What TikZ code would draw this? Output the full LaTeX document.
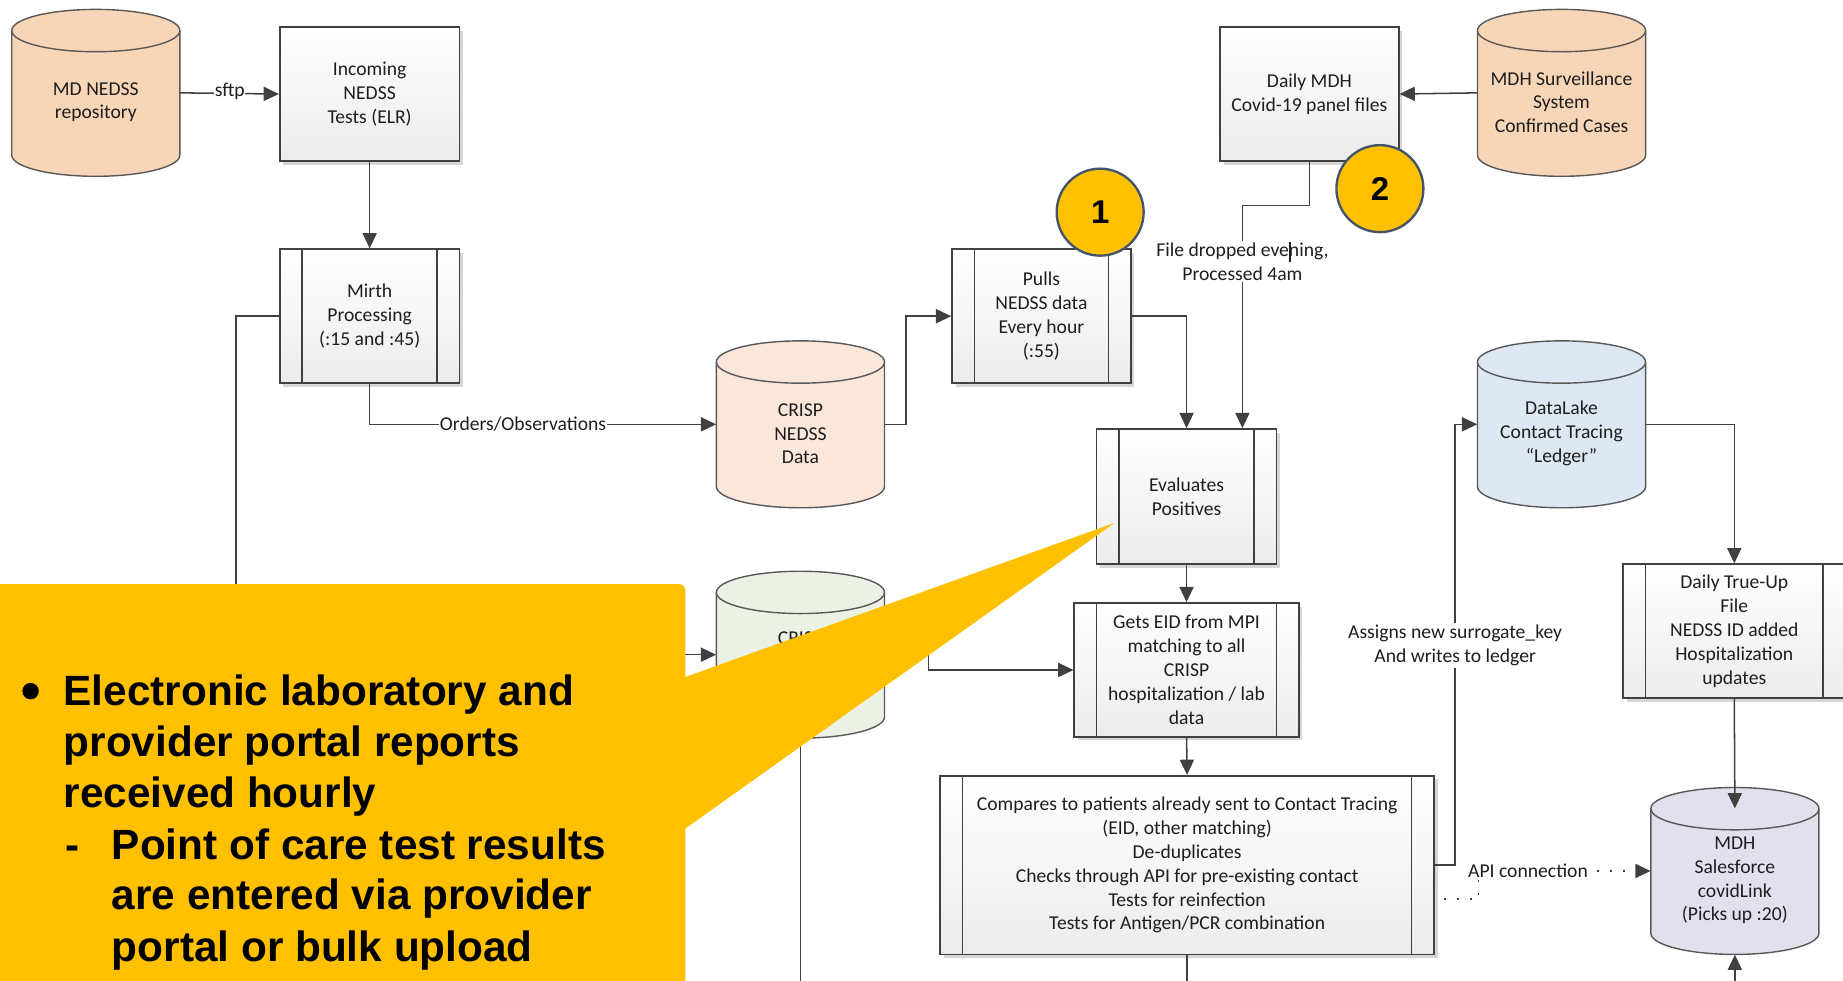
\documentclass[tikz,border=0pt]{standalone}
\usepackage{fontspec}
\usetikzlibrary{arrows.meta,shadows}

\newfontfamily\diagfont{Carlito}
\newfontfamily\notefont{Liberation Sans}

\definecolor{txt}{HTML}{1E1E1E}
\definecolor{linec}{HTML}{404040}
\definecolor{boxc}{HTML}{404040}
\definecolor{boxbot}{HTML}{ECECEC}
\definecolor{shadowc}{HTML}{D6D6D6}
\definecolor{cylc}{HTML}{595959}
\definecolor{peach}{HTML}{F7D5B7}
\definecolor{peachlt}{HTML}{FBE6DA}
\definecolor{greenlt}{HTML}{ECF1E6}
\definecolor{bluelt}{HTML}{DDE8F4}
\definecolor{lilac}{HTML}{E3E0ED}
\definecolor{gold}{HTML}{FFC000}
\definecolor{slate}{HTML}{44546A}

\newcommand\diagsize{\diagfont\fontsize{16.7pt}{20.3pt}\selectfont}
\newcommand\notesize{\notefont\bfseries\fontsize{36pt}{43.6pt}\selectfont}

% database cylinder: name, centre, fill colour, label
\newcommand\dbcyl[4]{%
  \begin{scope}[shift={#2}]
    \filldraw[cyl, fill=#3] (-71.5,-53) -- (-71.5,53)
      arc[start angle=180, end angle=360, x radius=71.5pt, y radius=18pt]
      -- (71.5,-53)
      arc[start angle=0, end angle=180, x radius=71.5pt, y radius=18pt] -- cycle;
    \draw[cyl] (-71.5,-53)
      arc[start angle=180, end angle=360, x radius=71.5pt, y radius=18pt];
  \end{scope}
  \node[cylnode] (#1) at #2 {};
  \node[txtstyle, yshift=-8pt] (#1-txt) at #2 {#4};
}

\begin{document}
\begin{tikzpicture}[x=1pt, y=-1pt,
  txtstyle/.style={font=\diagsize, text=txt, align=center},
  boxbase/.style={txtstyle, draw=boxc, line width=1.4pt,
    top color=white, bottom color=boxbot, inner sep=0pt,
    drop shadow={shadow xshift=3pt, shadow yshift=-3pt, fill=shadowc, opacity=1}},
  plainbox/.style={boxbase},
  procbox/.style={boxbase, path picture={
    \draw[draw=boxc, line width=1.4pt]
      ([xshift=19pt]path picture bounding box.north west) --
      ([xshift=19pt]path picture bounding box.south west)
      ([xshift=-19pt]path picture bounding box.north east) --
      ([xshift=-19pt]path picture bounding box.south east);}},
  cyl/.style={draw=cylc, line width=1.2pt},
  cylnode/.style={rectangle, minimum width=143pt, minimum height=142pt, inner sep=0pt},
  conn/.style={draw=linec, line width=1.3pt},
  arr/.style={conn, -{Triangle[length=13pt,width=12pt]}},
  dotarr/.style={arr, dash pattern=on 1.4pt off 9.6pt, dash phase=3pt},
  onlbl/.style={txtstyle, fill=white, inner sep=0.6pt},
  numc/.style={circle, fill=gold, draw=slate, line width=2pt, minimum size=74pt,
    inner sep=0pt, text=black, font=\notefont\bfseries\fontsize{28pt}{30pt}\selectfont},
  ctext/.style={font=\notesize, text=black, inner sep=0pt, anchor=base west},
]
\useasboundingbox (0,0) rectangle (1568,834);
\clip (0,0) rectangle (1568,834);

% ---------- data stores ----------
\dbcyl{mdnedss}{(81.5,79)}{peach}{MD NEDSS\\repository}
\dbcyl{mdhsurv}{(1328.5,79)}{peach}{MDH Surveillance\\System\\Confirmed Cases}
\dbcyl{crisp}{(681,361)}{peachlt}{CRISP\\NEDSS\\Data}
\dbcyl{datalake}{(1328.5,361)}{bluelt}{DataLake\\Contact Tracing\\“Ledger”}
\dbcyl{sf}{(1476,741)}{lilac}{MDH\\Salesforce\\covidLink\\(Picks up :20)}
% second CRISP store (lower), its first text line
\begin{scope}[shift={(681,557)}]
  \filldraw[cyl, fill=greenlt] (-71.5,-53) -- (-71.5,53)
    arc[start angle=180, end angle=360, x radius=71.5pt, y radius=18pt]
    -- (71.5,-53)
    arc[start angle=0, end angle=180, x radius=71.5pt, y radius=18pt] -- cycle;
  \draw[cyl] (-71.5,-53)
    arc[start angle=180, end angle=360, x radius=71.5pt, y radius=18pt];
\end{scope}
\node[cylnode] (green) at (681,557) {};
\node[txtstyle] (green-txt) at (681,543) {CRISP};

% ---------- process boxes ----------
\node[plainbox, minimum width=153pt, minimum height=114pt] (incoming) at (314.5,80)
  {Incoming\\NEDSS\\Tests (ELR)};
\node[procbox, minimum width=153pt, minimum height=114pt] (mirth) at (314.5,269)
  {Mirth\\Processing\\(:15 and :45)};
\node[procbox, minimum width=152pt, minimum height=114pt] (pulls) at (886,269)
  {Pulls\\NEDSS data\\Every hour\\(:55)};
\node[plainbox, minimum width=152pt, minimum height=114pt] (dailymdh) at (1114,80)
  {Daily MDH\\Covid-19 panel files};
\node[procbox, minimum width=153pt, minimum height=115pt] (evaluates) at (1009.5,422.5)
  {Evaluates\\Positives};
\node[procbox, minimum width=191pt, minimum height=114pt] (getseid) at (1009.5,570)
  {Gets EID from MPI\\matching to all\\CRISP\\hospitalization / lab\\data};
\node[procbox, minimum width=420pt, minimum height=152pt] (compares) at (1010,736)
  {Compares to patients already sent to Contact Tracing\\(EID, other matching)\\De-duplicates\\Checks through API for pre-existing contact\\Tests for reinfection\\Tests for Antigen/PCR combination};
\node[procbox, minimum width=189pt, minimum height=114pt] (trueup) at (1475.5,537)
  {Daily True-Up\\File\\NEDSS ID added\\Hospitalization\\updates};

% ---------- free connector ends ----------
\coordinate (greenout) at (681,845);
\coordinate (comparesout) at (1010,845);
\coordinate (sfin) at (1476,845);

% ---------- connectors ----------
\draw[arr] (mdnedss.east) -- (incoming.west);
\node[onlbl] (sftp) at (195.5,78) {sftp};
\draw[arr] (incoming.south) -- (mirth.north);
\draw[arr] (mirth.south) |- (crisp.west);
\node[onlbl] (orders) at (445,361) {Orders/Observations};
\draw[arr] (mirth.west) -- (201,269) |- (green.west);
\draw[arr] (crisp.east) -- (771,361) |- (pulls.west);
\draw[arr] (pulls.east) -| (evaluates.north);
\draw[arr] (mdhsurv.west) -- (dailymdh.east);
\draw[arr] (dailymdh.south) -- (1114,175) -| ([xshift=47.5pt]evaluates.north);
\node[onlbl, inner sep=1.5pt] (dropped) at (1057,222.5) {File dropped evening,\\Processed 4am};
\draw[txt, line width=0.9pt] (1097.5,206) -- (1097.5,223);
\draw[arr] (evaluates.south) -- (getseid.north);
\draw[arr] (getseid.south) -- (compares.north);
\draw[conn] (compares.south) -- (comparesout);
\draw[arr] ([yshift=5pt]green.east) -- (790,552) |- (getseid.west);
\draw[conn] (green.south) -- (greenout);
\draw[arr] (compares.east) -- (1238,736) |- (datalake.west);
\node[onlbl, inner sep=2pt] (assigns) at (1238,549) {Assigns new surrogate\_key\\And writes to ledger};
\draw[arr] (datalake.east) -| (trueup.north);
\draw[arr] (trueup.south) -- ([yshift=-18pt]sf.north);
\draw[arr] (sfin) -- (sf.south);
\draw[dotarr] ([yshift=-29pt]compares.east) -- (1258,765) |- (sf.west);
\node[onlbl, inner sep=2pt] (api) at (1300,741) {API connection};

% ---------- step markers ----------
\node[numc] (step1) at (936,180.5) {1};
\node[numc] (step2) at (1174,160.5) {2};

% ---------- call-out ----------
\coordinate (ctip) at (948,445);
\fill[gold] (0,497) -- (578,497) arc[start angle=90, end angle=0, radius=5pt]
  -- (583,576) -- (ctip) -- (583,705) -- (583,845) -- (0,845) -- cycle;
\node[circle, fill=black, minimum size=14pt, inner sep=0pt] (cbullet) at (26,588) {};
\node[ctext] (c1) at (54,600) {Electronic laboratory and};
\node[ctext] (c2) at (54,644) {provider portal reports};
\node[ctext] (c3) at (54,687) {received hourly};
\node[ctext, anchor=base] (cdash) at (62,731) {-};
\node[ctext] (c4) at (95,731) {Point of care test results};
\node[ctext] (c5) at (95,774) {are entered via provider};
\node[ctext] (c6) at (95,818) {portal or bulk upload};
\end{tikzpicture}
\end{document}
